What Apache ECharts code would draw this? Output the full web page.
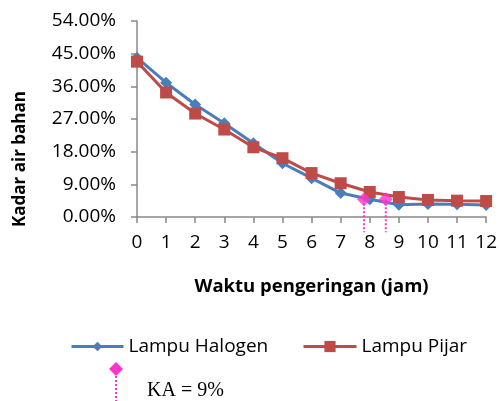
<!DOCTYPE html>
<html><head><meta charset="utf-8">
<script src="https://cdn.jsdelivr.net/npm/echarts@6/dist/echarts.min.js"></script>
<style>html,body{margin:0;padding:0;background:#fff}#c{width:500px;height:401px}</style>
</head><body><div id="c"></div>
<script>
const hours = [0,1,2,3,4,5,6,7,8,9,10,11,12];
const halogen = [43.9,37.0,31.0,25.8,20.3,14.8,10.7,6.6,4.9,3.4,3.6,3.5,3.3];
const pijar = [42.8,34.3,28.5,24.1,19.2,16.2,12.1,9.3,6.9,5.5,4.7,4.5,4.4];
const kaPoints = [[7.8,4.9],[8.55,4.9]];
const kaDropTo = -4.2;
const yTitle = 'Kadar air bahan';
const xTitle = 'Waktu pengeringan (jam)';
const kaLabel = 'KA = 9%';

const chart = echarts.init(document.getElementById('c'));
const font = 'Open Sans, Noto Sans, sans-serif';
const blue = '#4a7ebb', red = '#be4b48', mag = '#ff33cc';
const series = [
  {name:'Lampu Halogen', type:'line', data: hours.map((h,i)=>[h,halogen[i]]),
   symbol:'diamond', symbolSize:12, lineStyle:{color:blue,width:3}, itemStyle:{color:blue}, z:2},
  {name:'Lampu Pijar', type:'line', data: hours.map((h,i)=>[h,pijar[i]]),
   symbol:'rect', symbolSize:12, lineStyle:{color:red,width:3}, itemStyle:{color:red}, z:3}
];
kaPoints.forEach((p,i)=>{
  series.push({type:'line', data:[[p[0],p[1]],[p[0],kaDropTo]], symbol:'none', clip:false,
    lineStyle:{color:mag,width:2,type:[2,2]}, z:4, silent:true});
});
series.push({type:'scatter', data:kaPoints, symbol:'diamond', symbolSize:14, itemStyle:{color:mag}, z:5});

const legendText = {fontFamily:font,fontSize:19,color:'#000'};
chart.setOption({
  animation:false,
  grid:{left:137,right:12,top:21,bottom:184,containLabel:false},
  xAxis:{type:'value',min:0,max:12,interval:1,
    name:xTitle, nameLocation:'middle', nameGap:60,
    nameTextStyle:{fontFamily:font,fontWeight:'bold',fontSize:18.5,color:'#000'},
    axisLine:{lineStyle:{color:'#888',width:1.5}}, axisTick:{show:true,length:6,lineStyle:{color:'#888',width:1.5}},
    splitLine:{show:false},
    axisLabel:{fontFamily:font,fontSize:19,color:'#000',margin:16,formatter:v=>String(v)}},
  yAxis:{type:'value',min:0,max:54,interval:9,
    axisLine:{show:true,lineStyle:{color:'#888',width:1.5}}, axisTick:{show:true,length:6,lineStyle:{color:'#888',width:1.5}},
    splitLine:{show:false},
    axisLabel:{fontFamily:font,fontSize:19,color:'#000',margin:21,formatter:v=>v.toFixed(2)+'%'}},
  legend:[
    {left:65,top:332,itemWidth:52,itemHeight:12,itemGap:6,data:['Lampu Halogen'],textStyle:legendText,
     lineStyle:{width:3}},
    {left:297,top:332,itemWidth:53,itemHeight:14,itemGap:6,data:['Lampu Pijar'],textStyle:legendText,
     lineStyle:{width:3}}
  ],
  graphic:[
    {type:'text',x:20,y:159,rotation:Math.PI/2,
     style:{text:yTitle,fontFamily:font,fontWeight:'bold',fontSize:17,fill:'#000',align:'center',verticalAlign:'middle'}},
    {type:'polygon',shape:{points:[[116,362],[123,369],[116,376],[109,369]]},style:{fill:mag}},
    {type:'line',shape:{x1:116,y1:376,x2:116,y2:401},style:{stroke:mag,lineWidth:2,lineDash:[2,2]}},
    {type:'text',x:147,y:391,style:{text:kaLabel,font:'20px "Liberation Serif", serif',fill:'#000',verticalAlign:'middle'}}
  ],
  series
});
</script></body></html>
